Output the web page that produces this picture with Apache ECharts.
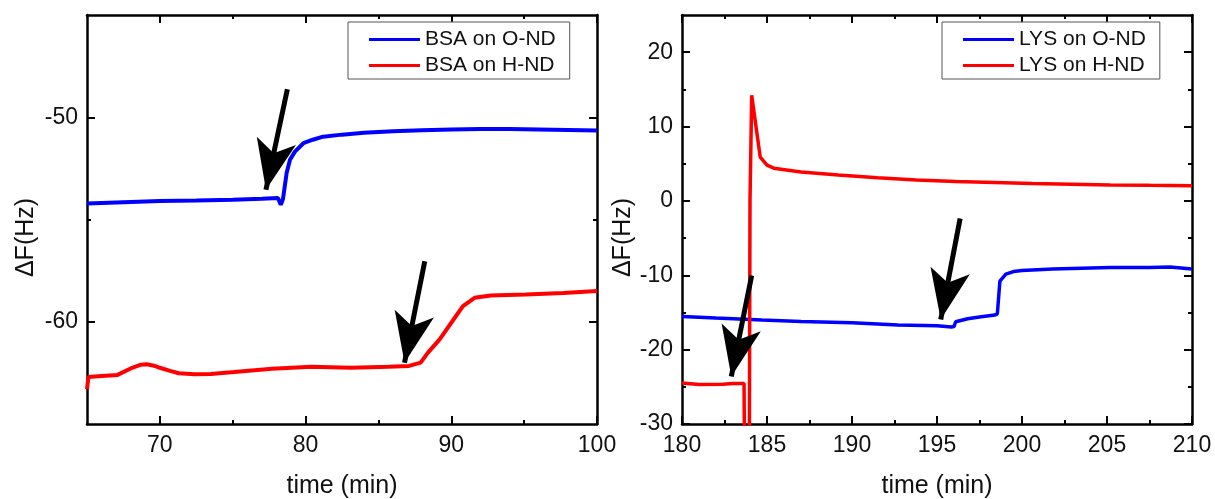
<!DOCTYPE html>
<html>
<head>
<meta charset="utf-8">
<script src="https://cdn.jsdelivr.net/npm/echarts@6/dist/echarts.min.js"></script>
<style>
html, body { margin: 0; padding: 0; background: #fff; }
#chart { width: 1215px; height: 499px; }
</style>
</head>
<body>
<div id="chart"></div>
<script>
// left panel: BSA
var bsaOTime  = [65, 67, 70, 72.5, 75, 77, 78.1, 78.3, 78.45, 78.7, 78.93, 79.27, 79.85, 80.5, 81.2, 82.5, 84, 86, 88, 90, 92, 94, 96, 98, 100];
var bsaOShift = [-54.22, -54.17, -54.1, -54.07, -54.03, -53.98, -53.95, -54.28, -54.0, -52.73, -52.08, -51.68, -51.27, -51.1, -50.95, -50.85, -50.76, -50.68, -50.63, -50.6, -50.57, -50.58, -50.6, -50.62, -50.65];
var bsaHTime  = [65, 65.1, 66, 67.1, 68.1, 68.7, 69.1, 69.6, 70, 70.7, 71.3, 72.4, 73.5, 75.1, 77.7, 80.4, 83.1, 85.7, 87.1, 87.9, 88.4, 89.2, 90, 90.8, 91.6, 92.7, 95.1, 97.7, 100];
var bsaHShift = [-63.3, -62.7, -62.65, -62.6, -62.25, -62.1, -62.08, -62.15, -62.25, -62.4, -62.52, -62.57, -62.55, -62.46, -62.3, -62.2, -62.25, -62.2, -62.16, -62.0, -61.51, -60.86, -60.05, -59.24, -58.83, -58.72, -58.67, -58.59, -58.5];

// right panel: LYS
var lysOTime  = [180, 182, 184.7, 187, 190, 192.7, 195, 195.85, 196.0, 196.1, 196.8, 197.5, 198.4, 198.55, 198.7, 199.05, 199.5, 200, 201.8, 203.5, 205.2, 207.5, 208.7, 210];
var lysOShift = [-15.55, -15.75, -16.0, -16.2, -16.4, -16.7, -16.8, -16.95, -16.9, -16.25, -15.85, -15.6, -15.35, -15.2, -10.8, -9.85, -9.5, -9.35, -9.17, -9.05, -8.95, -8.95, -8.9, -9.15];
var lysHTime  = [180, 181, 182.4, 183, 183.65, 183.68, 183.96, 184.0, 184.1, 184.6, 185.0, 185.4, 187, 189.2, 191.5, 193.8, 196.1, 198.4, 200.6, 202.9, 205.2, 207.5, 210];
var lysHShift = [-24.5, -24.7, -24.65, -24.55, -24.55, -36, -36, 0, 14.2, 5.9, 4.8, 4.4, 3.9, 3.5, 3.13, 2.82, 2.6, 2.46, 2.33, 2.24, 2.15, 2.1, 2.05];

// arrows: [tail time, tail value, tip time, tip value]
var bsaArrows = [[78.75, -48.63, 77.28, -53.55], [88.18, -57.04, 86.79, -62.0]];
var lysArrows = [[184.1, -10.04, 182.9, -23.6], [196.36, -2.37, 195.22, -15.96]];

// ticks
var bsaXMajor = [70, 80, 90, 100];
var bsaXMinor = [75, 85, 95];
var bsaYMajor = [-60, -50];
var bsaYMinor = [-55];
var lysXMajor = [180, 185, 190, 195, 200, 205, 210];
var lysXMinor = [182.5, 187.5, 192.5, 197.5, 202.5, 207.5];
var lysYMajor = [-30, -20, -10, 0, 10, 20];
var lysYMinor = [-25, -15, -5, 5, 15];

var FONT = 'Liberation Sans';
var BLUE = '#0000ff';
var RED = '#ff0000';

function zip(xs, ys) {
    var out = [];
    for (var i = 0; i < xs.length; i++) {
        out.push([xs[i], ys[i]]);
    }
    return out;
}

function arrowLines(list) {
    return list.map(function (a) {
        return [{coord: [a[0], a[1]]}, {coord: [a[2], a[3]]}];
    });
}

// one major + one minor axis per side, so all four frame sides get inward ticks
function frameAxes(dim, grid, min, max, major, minor, name, nameGap) {
    var sides = dim === 'x' ? ['bottom', 'top'] : ['left', 'right'];
    var axes = [];
    sides.forEach(function (pos, k) {
        axes.push({
            type: 'value', gridIndex: grid, position: pos, min: min, max: max,
            name: k === 0 ? name : '',
            nameLocation: 'middle',
            nameGap: nameGap,
            nameTextStyle: dim === 'x'
                ? {fontFamily: FONT, fontSize: 25, color: '#111'}
                : {fontFamily: FONT, fontSize: 25, color: '#111', padding: [0, 36, 0, 0]},
            axisLine: {show: true, onZero: false, lineStyle: {color: '#000', width: 2.5}},
            axisTick: {show: true, inside: true, length: 8, customValues: major, lineStyle: {color: '#000', width: 2}},
            axisLabel: {show: k === 0, customValues: major, fontFamily: FONT, fontSize: 23, color: '#111', margin: dim === 'x' ? 10 : 9},
            splitLine: {show: false}
        });
        axes.push({
            type: 'value', gridIndex: grid, position: pos, min: min, max: max,
            axisLine: {show: false, onZero: false},
            axisTick: {show: true, inside: true, length: 4, customValues: minor, lineStyle: {color: '#000', width: 2}},
            axisLabel: {show: false},
            splitLine: {show: false}
        });
    });
    return axes;
}

function legendBox(left, names) {
    return {
        left: left, top: 22,
        orient: 'vertical',
        data: names,
        icon: 'rect',
        itemWidth: 51,
        itemHeight: 3,
        itemGap: 5,
        padding: [7, 14, 3, 21],
        borderColor: '#555',
        borderWidth: 1,
        backgroundColor: '#fff',
        selectedMode: false,
        textStyle: {fontFamily: FONT, fontSize: 21, lineHeight: 21, color: '#111'}
    };
}

var arrowMark = {
    silent: true,
    symbol: ['none', 'arrow'],
    symbolSize: [30, 50],
    label: {show: false},
    lineStyle: {color: '#000', width: 5, type: 'solid'},
    itemStyle: {color: '#000'},
    emphasis: {disabled: true}
};

var xAxes = frameAxes('x', 0, 65, 100, bsaXMajor, bsaXMinor, 'time (min)', 50)
    .concat(frameAxes('x', 1, 180, 210, lysXMajor, lysXMinor, 'time (min)', 50));
var yAxes = frameAxes('y', 0, -65, -45, bsaYMajor, bsaYMinor, 'ΔF(Hz)', 48)
    .concat(frameAxes('y', 1, -30, 25, lysYMajor, lysYMinor, 'ΔF(Hz)', 45));

var myChart = echarts.init(document.getElementById('chart'));
var option = {
    animation: false,
    backgroundColor: '#fff',
    grid: [
        {left: 87, top: 15, width: 510, height: 409, outerBoundsMode: 'none'},
        {left: 682, top: 15, width: 510, height: 409, outerBoundsMode: 'none'}
    ],
    legend: [
        legendBox(348, ['BSA on O-ND', 'BSA on H-ND']),
        legendBox(942, ['LYS on O-ND', 'LYS on H-ND'])
    ],
    xAxis: xAxes,
    yAxis: yAxes,
    series: [
        {
            name: 'BSA on O-ND', type: 'line', xAxisIndex: 0, yAxisIndex: 0,
            data: zip(bsaOTime, bsaOShift), showSymbol: false, color: BLUE,
            lineStyle: {width: 4}
        },
        {
            name: 'BSA on H-ND', type: 'line', xAxisIndex: 0, yAxisIndex: 0,
            data: zip(bsaHTime, bsaHShift), showSymbol: false, color: RED,
            lineStyle: {width: 4},
            markLine: Object.assign({data: arrowLines(bsaArrows)}, arrowMark)
        },
        {
            name: 'LYS on O-ND', type: 'line', xAxisIndex: 4, yAxisIndex: 4,
            data: zip(lysOTime, lysOShift), showSymbol: false, color: BLUE,
            lineStyle: {width: 3.5}
        },
        {
            name: 'LYS on H-ND', type: 'line', xAxisIndex: 4, yAxisIndex: 4,
            data: zip(lysHTime, lysHShift), showSymbol: false, color: RED,
            lineStyle: {width: 3.5},
            markLine: Object.assign({data: arrowLines(lysArrows)}, arrowMark)
        }
    ]
};
myChart.setOption(option);
</script>
</body>
</html>
